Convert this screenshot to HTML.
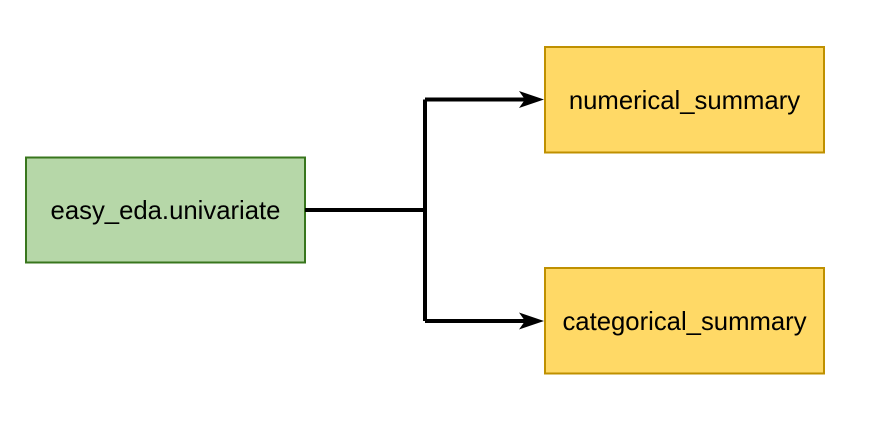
<!DOCTYPE html>
<html><head><style>body{margin:0;background:#fff}</style></head><body>
<svg width="886" height="424" xmlns="http://www.w3.org/2000/svg" style="display:block">
<rect x="26" y="157.5" width="279" height="105" fill="#b6d7a8" stroke="#38761d" stroke-width="2"/>
<rect x="545" y="47" width="279" height="105.5" fill="#ffd966" stroke="#bf9000" stroke-width="2"/>
<rect x="545" y="268" width="279" height="105.5" fill="#ffd966" stroke="#bf9000" stroke-width="2"/>
<g font-family="Liberation Sans, sans-serif" font-size="25.7" text-anchor="middle" fill="#000">
<text x="165.5" y="219">easy_eda.univariate</text>
<text x="684.5" y="109">numerical_summary</text>
<text x="684.5" y="330">categorical_summary</text>
</g>
<path d="M305 210 H425 M425 99.5 V321 M425 99.5 H532 M425 321 H532" stroke="#000" stroke-width="4" fill="none"/>
<path d="M519 91 L544 99.5 L519 108 L525 99.5 Z" fill="#000"/>
<path d="M519 312.5 L544 321 L519 329.5 L525 321 Z" fill="#000"/>
</svg>
</body></html>
